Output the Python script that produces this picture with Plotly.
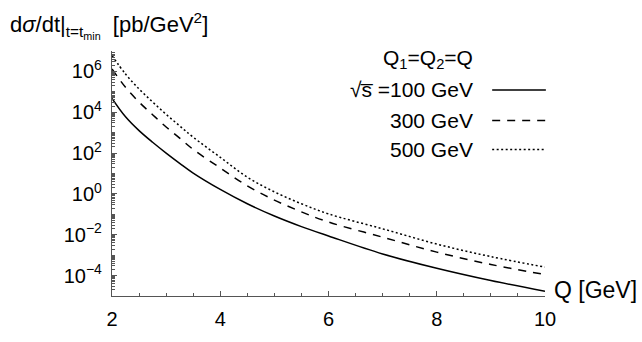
import plotly.graph_objects as go

# Q1 = Q2 = Q [GeV]
Q = [2.0, 2.25, 2.5, 2.75, 3.0, 3.25, 3.5, 4.0, 4.5, 5.0, 5.5, 6.0, 7.0, 8.0, 9.0, 10.0]

# d sigma / dt at t = t_min [pb/GeV^2]
xsec_100 = [4.8e4, 6.0e3, 1.26e3, 339, 100, 31.6, 10.5, 1.66, 0.33, 0.083, 0.0251,
            0.0087, 1.15e-3, 2.3e-4, 5.75e-5, 1.7e-5]
xsec_300 = [1.32e6, 1.66e5, 3.16e4, 7.6e3, 1.9e3, 540, 151, 18.6, 2.5, 0.50, 0.132,
            0.042, 7.6e-3, 1.41e-3, 3.5e-4, 1.12e-4]
xsec_500 = [6.0e6, 7.4e5, 1.38e5, 3.2e4, 7.9e3, 2.15e3, 600, 62, 6.6, 1.26, 0.33,
            0.105, 0.0195, 3.5e-3, 8.5e-4, 2.6e-4]

series = [
    ("100 GeV", xsec_100, "solid"),
    ("300 GeV", xsec_300, "8px,7px"),
    ("500 GeV", xsec_500, "2px,2.5px"),
]

x_ticks = [2, 4, 6, 8, 10]
y_ticks = [1e6, 1e4, 1e2, 1e0, 1e-2, 1e-4]
y_ticktext = ["10<sup>6</sup>", "10<sup>4</sup>", "10<sup>2</sup>",
              "10<sup>0</sup>", "10<sup>−2</sup>", "10<sup>−4</sup>"]

FONT = "Liberation Sans, Arial, sans-serif"
AXIS = "#555555"

# unlabelled log ticks: odd decades plus 2..9 within each decade
y_minor = [m * 10.0 ** d for d in range(-5, 7) for m in range(1, 10)
           if not (m == 1 and d % 2 == 0)] + [1e7]

fig = go.Figure()
for name, ys, dash in series:
    fig.add_trace(go.Scatter(
        x=Q, y=ys, mode="lines", name=name,
        line=dict(color="black", width=1.5, dash=dash, shape="spline", smoothing=1.0),
        showlegend=False,
    ))

fig.update_layout(
    width=642, height=342,
    margin=dict(l=112, r=97, t=51, b=27),
    paper_bgcolor="white", plot_bgcolor="white",
    font=dict(family=FONT, size=21, color="black"),
    xaxis=dict(
        range=[2, 10], showgrid=False, zeroline=False,
        showline=True, linecolor=AXIS, linewidth=1.2,
        ticks="inside", ticklen=5, tickcolor=AXIS, tickwidth=1,
        tickvals=x_ticks, ticktext=[str(v) for v in x_ticks],
        tickfont=dict(size=20), ticklabelstandoff=5,
        minor=dict(tickmode="array", tickvals=[v / 2 for v in range(4, 21)],
                   ticks="inside", ticklen=3, tickcolor=AXIS, showgrid=False),
    ),
    yaxis=dict(
        type="log", range=[-5, 7], showgrid=False, zeroline=False,
        showline=True, linecolor=AXIS, linewidth=1.2,
        ticks="inside", ticklen=5, tickcolor=AXIS, tickwidth=1,
        tickvals=y_ticks, ticktext=y_ticktext,
        tickfont=dict(size=20), ticklabelstandoff=5,
        minor=dict(tickmode="array", tickvals=y_minor,
                   ticks="inside", ticklen=3, tickcolor=AXIS, showgrid=False),
    ),
)

# axis captions
fig.add_annotation(
    text="d<i>σ</i>/dt|<sub>t=t<sub>min</sub></sub>  [pb/GeV<sup>2</sup>]",
    xref="paper", yref="paper", x=-0.240, y=1.106, xanchor="left", yanchor="middle",
    showarrow=False, font=dict(size=22),
)
fig.add_annotation(
    text="Q [GeV]", xref="paper", yref="paper", x=1.016, y=0.023,
    xanchor="left", yanchor="middle", showarrow=False, font=dict(size=23),
)

# key: labels on the left, line samples on the right
fig.add_annotation(
    text="Q<sub>1</sub>=Q<sub>2</sub>=Q", xref="paper", yref="paper",
    x=0.838, y=0.966, xanchor="right", yanchor="middle", showarrow=False,
)
key_rows = [0.841, 0.716, 0.598]
key_text = ["√s̅ =100 GeV", "300 GeV", "500 GeV"]
for (name, ys, dash), yk, txt in zip(series, key_rows, key_text):
    fig.add_annotation(
        text=txt, xref="paper", yref="paper", x=0.838, y=yk,
        xanchor="right", yanchor="middle", showarrow=False,
    )
    fig.add_shape(
        type="line", xref="paper", yref="paper", x0=0.878, x1=1.002, y0=yk, y1=yk,
        line=dict(color="black", width=1.5, dash=dash),
    )

fig.write_html("out.html")
